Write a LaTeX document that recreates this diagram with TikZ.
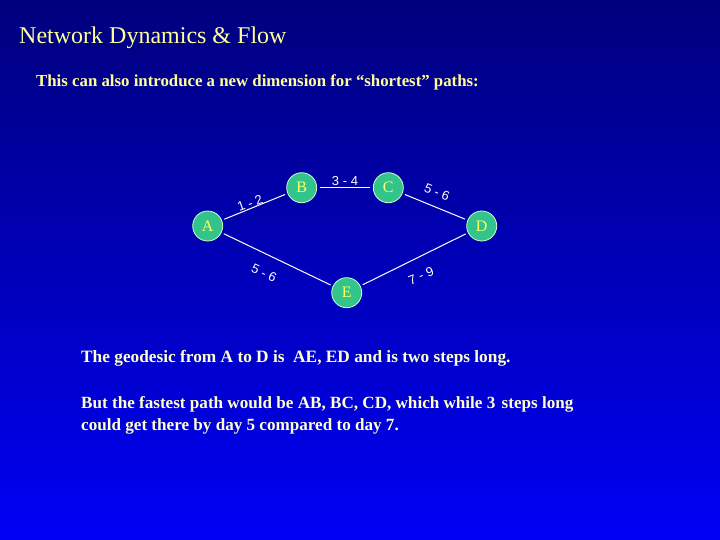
\documentclass[tikz,border=0pt]{standalone}
\usepackage{fontspec}
\setmainfont{Liberation Serif}
\newfontfamily\labfont{Liberation Sans}
\definecolor{bgtop}{RGB}{0,0,125}
\definecolor{bgbot}{RGB}{0,0,245}
\definecolor{titlecol}{RGB}{255,255,153}
\definecolor{bodycol}{RGB}{255,255,204}
\definecolor{nodefill}{RGB}{51,196,140}
\definecolor{nodeline}{RGB}{204,255,204}
\definecolor{nodetext}{RGB}{255,255,102}
\tikzset{
  vert/.style={circle, draw=nodeline, line width=0.8pt, fill=nodefill, minimum size=30pt, inner sep=0pt,
    text=nodetext, font=\fontsize{16}{16}\selectfont},
  edge/.style={draw=white, line width=1pt, shorten <=2.5pt, shorten >=2.5pt},
  elabel/.style={text=white, font=\labfont\fontsize{13}{13}\selectfont, inner sep=0pt},
  body/.style={anchor=west, text=bodycol, font=\bfseries\fontsize{17.3}{18}\selectfont, inner sep=0pt},
}
\begin{document}
\begin{tikzpicture}[x=1pt,y=-1pt]
\shade[top color=bgtop, bottom color=bgbot] (0,0) rectangle (720,540);
\useasboundingbox (0,0) rectangle (720,540);
% title
\node[anchor=west, text=titlecol, font=\fontsize{24}{24}\selectfont, inner sep=0pt] (title) at (19,38) {Network Dynamics \& Flow};
\node[anchor=west, text=titlecol, font=\bfseries\fontsize{16.8}{17}\selectfont, inner sep=0pt] (sub) at (36,82) {This can also introduce a new dimension for “shortest” paths:};
% nodes
\node[vert] (A) at (207.7,226) {A};
\node[vert] (B) at (301.7,187.7) {B};
\node[vert] (C) at (388.3,187.7) {C};
\node[vert] (D) at (481.7,226) {D};
\node[vert] (E) at (346.7,292.7) {E};
% edges
\draw[edge] (A) -- (B);
\draw[edge] (B) -- (C);
\draw[edge] (C) -- (D);
\draw[edge] (A) -- (E);
\draw[edge] (E) -- (D);
% labels
\node[elabel, rotate=20] (l12) at (250,203) {1 - 2};
\node[elabel] (l34) at (345,181) {3 - 4};
\node[elabel, rotate=-22] (l56a) at (437,192) {5 - 6};
\node[elabel, rotate=-25] (l56b) at (264,273) {5 - 6};
\node[elabel, rotate=22] (l79) at (421,276) {7 - 9};
% body
\node[body] (t1) at (81,358) {The geodesic from A to D is\ \ AE, ED and is two steps long.};
\node[body, font=\bfseries\fontsize{17.1}{18}\selectfont] (t2) at (81,404) {But the fastest path would be AB, BC, CD, which while 3\hspace{2pt} steps long};
\node[body, font=\bfseries\fontsize{17.1}{18}\selectfont] (t3) at (81,426) {could get there by day 5 compared to day 7.};
\end{tikzpicture}
\end{document}
